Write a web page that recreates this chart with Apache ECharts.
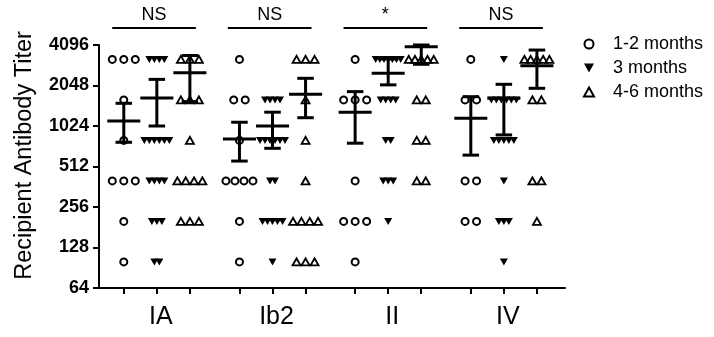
<!DOCTYPE html>
<html>
<head>
<meta charset="utf-8">
<script src="https://cdn.jsdelivr.net/npm/echarts@6/dist/echarts.min.js"></script>
<style>
html, body { margin: 0; padding: 0; background: #fff; }
#chart { width: 714px; height: 337px; }
</style>
</head>
<body>
<div id="chart"></div>
<script>
const groups = ['IA', 'Ib2', 'II', 'IV'];
const cohorts = ['1-2 months', '3 months', '4-6 months'];
const sigLabels = ['NS', 'NS', '*', 'NS'];

// individual titers, one inner array per group (IA, Ib2, II, IV)
const titers12 = [
  [3200, 3200, 3200, 1600, 800, 400, 400, 400, 200, 100],
  [3200, 1600, 1600, 800, 400, 400, 400, 400, 200, 100],
  [3200, 1600, 1600, 1600, 400, 200, 200, 200, 100],
  [3200, 1600, 1600, 400, 400, 200, 200]
];
const titers3 = [
  [3200, 3200, 3200, 3200, 800, 800, 800, 800, 800, 800, 400, 400, 400, 400, 200, 200, 200, 100, 100],
  [1600, 1600, 1600, 1600, 800, 800, 800, 800, 800, 800, 400, 400, 200, 200, 200, 200, 200, 100],
  [3200, 3200, 3200, 3200, 3200, 3200, 3200, 1600, 1600, 1600, 1600, 800, 800, 400, 400, 400, 200],
  [3200, 1600, 1600, 1600, 1600, 1600, 1600, 800, 800, 800, 800, 800, 400, 200, 200, 200, 100]
];
const titers46 = [
  [3200, 3200, 3200, 1600, 1600, 1600, 800, 400, 400, 400, 400, 200, 200, 200],
  [3200, 3200, 3200, 1600, 800, 400, 200, 200, 200, 200, 100, 100, 100],
  [3200, 3200, 3200, 3200, 3200, 1600, 1600, 800, 800, 400, 400],
  [3200, 3200, 3200, 3200, 3200, 1600, 1600, 400, 400, 200]
];

// mean with error bar ends, per group
const mean12 = [1116, 818, 1297, 1167];
const low12 = [775, 562, 763, 622];
const high12 = [1510, 1092, 1845, 1691];
const mean3 = [1657, 1024, 2526, 1650];
const low3 = [1024, 699, 2070, 879];
const high3 = [2274, 1297, 3230, 2090];
const mean46 = [2550, 1763, 3970, 2875];
const low46 = [1553, 1180, 2945, 1952];
const high46 = [3420, 2316, 4096, 3757];

const font = '"Liberation Sans", Arial, sans-serif';
const groupStep = 3.5;
const colPos = (g, c) => g * groupStep + c;

// spread equal values side by side, like a column scatter plot
function dots(titers, c, maxGap, span) {
  const out = [];
  titers.forEach((list, g) => {
    const counts = {};
    list.forEach(v => { counts[v] = (counts[v] || 0) + 1; });
    Object.keys(counts).forEach(k => {
      const n = counts[k];
      const gap = n > 1 ? Math.min(maxGap, span / (n - 1)) : 0;
      for (let i = 0; i < n; i++) {
        out.push({ value: [colPos(g, c), +k], symbolOffset: [(i - (n - 1) / 2) * gap, 0] });
      }
    });
  });
  return out;
}

function bars(mean, low, high, c) {
  return mean.map((m, g) => [colPos(g, c), m, low[g], high[g]]);
}

function renderBar(params, api) {
  const x = api.value(0);
  const pm = api.coord([x, api.value(1)]);
  const pl = api.coord([x, api.value(2)]);
  const ph = api.coord([x, api.value(3)]);
  const unit = api.coord([x + 1, api.value(1)])[0] - pm[0];
  const hw = unit * 0.5, cw = unit * 0.25;
  const st = { stroke: '#000', lineWidth: 3 };
  return {
    type: 'group',
    children: [
      { type: 'line', shape: { x1: pm[0] - hw, y1: pm[1], x2: pm[0] + hw, y2: pm[1] }, style: st },
      { type: 'line', shape: { x1: pm[0], y1: pl[1], x2: pm[0], y2: ph[1] }, style: st },
      { type: 'line', shape: { x1: pm[0] - cw, y1: pl[1], x2: pm[0] + cw, y2: pl[1] }, style: st },
      { type: 'line', shape: { x1: pm[0] - cw, y1: ph[1], x2: pm[0] + cw, y2: ph[1] }, style: st }
    ]
  };
}

function renderSig(params, api) {
  const a = api.coord([api.value(0), 4096]);
  const b = api.coord([api.value(1), 4096]);
  const y = a[1] - 17;
  return {
    type: 'group',
    children: [
      { type: 'line', shape: { x1: a[0], y1: y, x2: b[0], y2: y }, style: { stroke: '#000', lineWidth: 2 } },
      { type: 'text', x: (a[0] + b[0]) / 2, y: y - 4, style: {
        text: sigLabels[params.dataIndex], fill: '#000', font: '18px ' + font,
        align: 'center', verticalAlign: 'bottom' } }
    ]
  };
}

const chart = echarts.init(document.getElementById('chart'));

const option = {
  animation: false,
  textStyle: { fontFamily: font },
  grid: { left: 99, right: 149, top: 45, bottom: 49 },
  legend: {
    orient: 'vertical', left: 578, top: 30, itemWidth: 10, itemHeight: 9, itemGap: 6,
    data: [
      { name: cohorts[0] },
      { name: cohorts[1], icon: 'path://M0,0 L10,0 L5,9 Z' },
      { name: cohorts[2] }
    ],
    textStyle: { fontSize: 18, color: '#000', fontFamily: font, padding: [0, 0, 0, 14] }
  },
  xAxis: {
    type: 'value', min: -0.75, max: 13.35,
    splitLine: { show: false },
    axisLine: { onZero: false, lineStyle: { color: '#000', width: 2 } },
    axisTick: {
      length: 6, lineStyle: { color: '#000', width: 2 },
      customValues: [0, 1, 2, 3.5, 4.5, 5.5, 7, 8, 9, 10.5, 11.5, 12.5]
    },
    axisLabel: {
      customValues: groups.map((_, g) => colPos(g, 1)),
      formatter: v => groups[Math.round((v - 1) / groupStep)],
      fontSize: 25, color: '#000', margin: 17, padding: [0, 0, 0, 8]
    }
  },
  yAxis: {
    type: 'log', logBase: 2, min: 64, max: 4096,
    splitLine: { show: false },
    axisLine: { show: true, onZero: false, lineStyle: { color: '#000', width: 2 } },
    axisTick: { show: true, length: 6, lineStyle: { color: '#000', width: 2 } },
    axisLabel: { fontSize: 18, fontWeight: 'bold', color: '#000', margin: 10, formatter: v => String(Math.round(v)) },
    name: 'Recipient Antibody Titer', nameLocation: 'middle', nameGap: 62,
    nameTextStyle: { fontSize: 23.5, color: '#000', padding: [0, 0, 0, 22] }
  },
  series: [
    {
      name: cohorts[0], type: 'scatter', symbol: 'circle', symbolSize: 7,
      itemStyle: { color: '#fff', borderColor: '#000', borderWidth: 2, opacity: 1 },
      data: dots(titers12, 0, 11.5, 27)
    },
    {
      name: cohorts[1], type: 'scatter', symbol: 'triangle', symbolRotate: 180, symbolSize: [8, 7],
      itemStyle: { color: '#000', opacity: 1 },
      data: dots(titers3, 1, 5, 25)
    },
    {
      name: cohorts[2], type: 'scatter', symbol: 'triangle', symbolSize: [8, 7],
      itemStyle: { color: 'rgba(255,255,255,0)', borderColor: '#000', borderWidth: 1.8, opacity: 1 },
      data: dots(titers46, 2, 9, 25)
    },
    { type: 'custom', renderItem: renderBar, data: bars(mean12, low12, high12, 0), z: 5 },
    { type: 'custom', renderItem: renderBar, data: bars(mean3, low3, high3, 1), z: 5 },
    { type: 'custom', renderItem: renderBar, data: bars(mean46, low46, high46, 2), z: 5 },
    {
      type: 'custom', renderItem: renderSig, clip: false,
      data: groups.map((_, g) => [colPos(g, 0) - 0.35, colPos(g, 2) + 0.18])
    }
  ]
};

chart.setOption(option);
window.addEventListener('resize', () => chart.resize());
</script>
</body>
</html>
